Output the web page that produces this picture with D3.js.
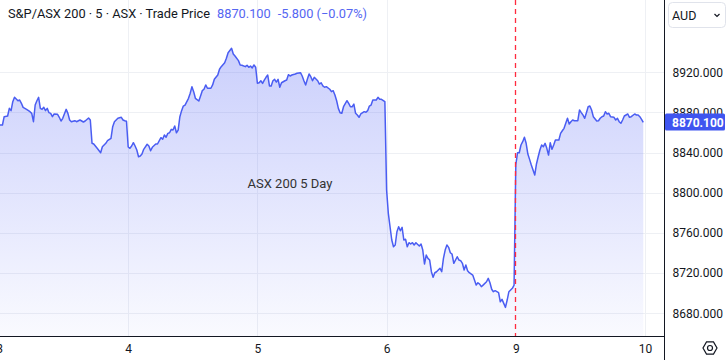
<!DOCTYPE html>
<html>
<head>
<meta charset="utf-8">
<script src="https://cdn.jsdelivr.net/npm/d3@7"></script>
<style>
  body { margin: 0; background: #fff; }
  svg { display: block; font-family: Roboto, "Liberation Sans", sans-serif; }
</style>
</head>
<body>
<div id="chart"></div>
<script>
const dayLabels = ["3", "4", "5", "6", "9", "10"];
const barsPerDay = 75;
const yTicks = [8680, 8720, 8760, 8800, 8840, 8880, 8920];
const lastPrice = 8870.1;
const change = "-5.800 (\u22120.07%)";
const marketDay = 4; // index of the "9" session, marked with the red line

// [5-minute bar within the session, price]
const day3 = [[0,8867.5],[2,8867.5],[3,8875.8],[5,8876.5],[6,8884.1],[7,8881.8],[8,8890.7],[9,8895.1],[11,8891.7],[12,8892.4],[13,8889.1],[14,8885.1],[16,8883.1],[18,8880.8],[19,8879.1],[20,8870.8],[21,8887.4],[22,8891.7],[23,8895.1],[24,8884.1],[25,8883.1],[26,8885.1],[27,8881.8],[28,8884.1],[29,8879.8],[30,8879.1],[31,8875.8],[32,8878.5],[34,8878.2],[35,8875.2],[36,8871.5],[37,8874.2],[39,8883.1],[40,8879.1],[41,8872.5],[42,8870.8],[44,8871.8],[45,8870.8],[47,8872.5],[49,8870.5],[50,8871.5],[52,8874.5],[53,8872.5],[54,8849.3],[55,8848.6],[57,8844.3],[59,8839.9],[60,8845.9],[62,8849.3],[63,8851.9],[65,8854.3],[66,8865.8],[67,8870.8],[69,8874.2],[71,8875.2],[72,8872.5],[73,8871.8],[74,8871.2]];
const day4 = [[0,8845.6],[1,8844.3],[2,8846.6],[3,8849.9],[4,8846.6],[5,8842.6],[6,8835.9],[7,8836.6],[8,8838.6],[9,8843.3],[11,8848.3],[12,8846.6],[13,8841.9],[14,8845.3],[16,8848.6],[17,8848.6],[19,8854.9],[20,8853.3],[21,8857.6],[22,8855.3],[23,8859.2],[24,8859.8],[25,8863.2],[26,8862.5],[27,8866.5],[28,8859.8],[29,8862.5],[30,8875.8],[31,8881.8],[32,8886.4],[33,8887.4],[35,8894.1],[36,8899.1],[37,8905.7],[38,8900.7],[39,8894.1],[41,8891.4],[42,8896.4],[43,8901.7],[44,8903.1],[45,8907.4],[46,8904.1],[48,8904.1],[49,8907.4],[50,8913.0],[52,8917.3],[53,8923.0],[54,8925.6],[56,8929.6],[57,8933.9],[58,8939.5],[60,8943.9],[61,8938.2],[62,8936.2],[64,8931.6],[65,8927.3],[66,8927.0],[68,8925.6],[69,8927.0],[70,8925.0],[71,8926.3],[72,8924.3],[73,8927.3],[74,8925.0]];
const day5 = [[0,8909.1],[1,8909.6],[2,8911.6],[3,8909.0],[4,8912.3],[5,8915.0],[6,8917.3],[7,8906.4],[8,8906.4],[9,8911.6],[10,8913.0],[11,8910.3],[12,8913.0],[13,8905.1],[14,8909.6],[15,8910.6],[16,8911.6],[17,8912.3],[18,8917.6],[19,8916.3],[20,8917.3],[22,8918.3],[23,8919.0],[25,8919.6],[26,8916.3],[27,8911.6],[28,8907.4],[29,8913.0],[30,8918.3],[31,8915.6],[32,8911.6],[33,8915.0],[35,8911.6],[36,8908.3],[37,8909.6],[38,8906.4],[39,8905.1],[40,8905.7],[42,8903.1],[43,8900.7],[44,8901.7],[45,8897.4],[46,8891.7],[47,8884.1],[48,8879.8],[49,8879.2],[50,8885.7],[52,8891.7],[53,8889.1],[54,8885.7],[55,8885.7],[56,8888.4],[57,8879.2],[58,8877.5],[59,8875.2],[60,8878.5],[62,8880.8],[63,8880.2],[64,8881.8],[65,8886.4],[66,8887.4],[67,8892.4],[69,8892.4],[70,8895.1],[71,8893.1],[72,8893.1],[74,8890.7]];
const day6 = [[0,8802.8],[1,8779.6],[2,8766.2],[3,8753.0],[4,8746.3],[5,8748.0],[6,8761.2],[7,8766.2],[8,8762.2],[9,8765.6],[10,8753.0],[11,8753.7],[12,8746.3],[13,8750.3],[14,8749.0],[15,8750.3],[16,8748.0],[17,8750.3],[19,8747.0],[20,8749.0],[21,8743.0],[22,8729.1],[23,8738.0],[24,8734.7],[25,8733.0],[26,8721.4],[27,8715.8],[28,8720.4],[29,8721.4],[31,8724.8],[32,8721.4],[33,8734.7],[34,8743.0],[35,8748.0],[36,8745.7],[37,8740.3],[38,8739.0],[39,8729.8],[41,8736.3],[42,8733.0],[43,8732.4],[44,8729.8],[45,8723.1],[46,8728.1],[47,8722.4],[48,8720.4],[50,8718.1],[51,8713.1],[52,8708.1],[53,8710.4],[54,8709.1],[55,8706.5],[56,8708.1],[58,8711.4],[59,8714.8],[60,8710.4],[61,8703.9],[62,8701.5],[63,8702.5],[65,8700.5],[66,8691.5],[67,8693.9],[68,8689.9],[69,8685.9],[70,8693.2],[71,8701.5],[72,8703.2],[73,8704.9],[74,8708.1]];
const day9 = [[0,8827.7],[1,8839.9],[2,8839.9],[3,8847.6],[4,8850.9],[5,8855.3],[6,8849.3],[7,8838.6],[8,8833.3],[9,8827.7],[10,8822.7],[11,8817.7],[12,8828.7],[13,8835.9],[14,8842.6],[15,8847.6],[16,8845.9],[17,8849.3],[18,8844.3],[19,8837.6],[20,8849.9],[21,8843.3],[22,8847.6],[23,8852.6],[25,8852.6],[26,8859.2],[27,8861.8],[28,8864.2],[29,8869.2],[30,8874.2],[31,8868.5],[32,8870.8],[33,8872.5],[34,8871.8],[36,8871.8],[37,8882.5],[38,8879.8],[39,8877.5],[40,8874.2],[41,8879.8],[42,8885.7],[43,8886.4],[44,8882.5],[45,8875.8],[47,8871.5],[48,8871.8],[49,8874.2],[50,8875.8],[51,8876.5],[52,8880.8],[53,8878.5],[54,8879.2],[55,8875.8],[57,8875.2],[58,8872.5],[59,8874.2],[60,8870.8],[61,8869.2],[62,8872.5],[63,8876.5],[64,8877.5],[65,8878.5],[66,8875.2],[67,8875.8],[69,8878.5],[70,8877.5],[71,8877.5],[72,8875.8],[73,8873.2],[74,8870.1]];

const sessions = [day3, day4, day5, day6, day9];

const width = 728;
const height = 360;
const plotRight = 664.5;
const plotBottom = 336.5;

const data = sessions.flatMap((s, i) => s.map(([b, v]) => ({ bar: i * barsPerDay + b, value: v })));

const x = d3.scaleLinear()
    .domain([0, barsPerDay * (dayLabels.length - 1)])
    .range([-1, 645]);

const y = d3.scaleLinear()
    .domain([8680, 8920])
    .range([313.3, 72.3]);

const svg = d3.select("#chart").append("svg")
    .attr("width", width)
    .attr("height", height);

const defs = svg.append("defs");
const grad = defs.append("linearGradient")
    .attr("id", "areaFill")
    .attr("gradientUnits", "userSpaceOnUse")
    .attr("x1", 0).attr("x2", 0)
    .attr("y1", y(d3.max(data, d => d.value)))
    .attr("y2", plotBottom);
grad.append("stop").attr("offset", "0%").attr("stop-color", "#5060f5").attr("stop-opacity", 0.3);
grad.append("stop").attr("offset", "100%").attr("stop-color", "#5060f5").attr("stop-opacity", 0.03);

defs.append("clipPath").attr("id", "plotClip")
    .append("rect").attr("x", 0).attr("y", 0).attr("width", plotRight).attr("height", plotBottom);

const markBar = marketDay * barsPerDay;

// grid
const grid = svg.append("g").attr("class", "grid");
grid.selectAll("line.h")
    .data(yTicks)
    .join("line")
    .attr("class", "h")
    .attr("x1", 0).attr("x2", plotRight)
    .attr("y1", d => Math.round(y(d)) + 0.5)
    .attr("y2", d => Math.round(y(d)) + 0.5)
    .attr("stroke", "#eef0f4");
grid.selectAll("line.v")
    .data(dayLabels.map((d, i) => i * barsPerDay).filter(b => x(b) > 0 && b !== markBar))
    .join("line")
    .attr("class", "v")
    .attr("x1", d => Math.round(x(d)) + 0.5)
    .attr("x2", d => Math.round(x(d)) + 0.5)
    .attr("y1", 0).attr("y2", plotBottom)
    .attr("stroke", "#eef0f4");

const plot = svg.append("g").attr("clip-path", "url(#plotClip)");

plot.append("path")
    .datum(data)
    .attr("fill", "url(#areaFill)")
    .attr("d", d3.area().x(d => x(d.bar)).y0(plotBottom).y1(d => y(d.value)));

plot.append("path")
    .datum(data)
    .attr("fill", "none")
    .attr("stroke", "#4a5df2")
    .attr("stroke-width", 1.5)
    .attr("stroke-linejoin", "round")
    .attr("d", d3.line().x(d => x(d.bar)).y(d => y(d.value)));

// session marker
const markX = Math.round(x(markBar)) - 0.5;
svg.append("line")
    .attr("x1", markX).attr("x2", markX)
    .attr("y1", 0).attr("y2", plotBottom)
    .style("stroke", "#ff2b3f")
    .style("stroke-width", "1.3px")
    .style("stroke-dasharray", "5,4");

// watermark-ish label
svg.append("text")
    .attr("x", 290)
    .attr("y", 188)
    .attr("text-anchor", "middle")
    .style("font-size", "13px")
    .style("fill", "#333")
    .text("ASX 200 5 Day");

// header
const header = svg.append("text")
    .attr("x", 8)
    .attr("y", 18)
    .style("font-size", "12.8px")
    .style("fill", "#131722");
header.append("tspan").text("S&P/ASX 200 \u00b7 5 \u00b7 ASX \u00b7 Trade Price");
header.append("tspan").attr("dx", 7).style("fill", "#5566f2").text(d3.format(".3f")(lastPrice));
header.append("tspan").attr("dx", 7).style("fill", "#5566f2").text(change);

// axes frame
svg.append("line")
    .attr("x1", plotRight).attr("x2", plotRight)
    .attr("y1", 0).attr("y2", height)
    .attr("stroke", "#131722");
svg.append("line")
    .attr("x1", 0).attr("x2", plotRight)
    .attr("y1", plotBottom).attr("y2", plotBottom)
    .attr("stroke", "#131722");

// right price axis
svg.append("g")
    .attr("transform", `translate(${plotRight}, 0)`)
    .call(d3.axisRight(y).tickValues(yTicks).tickSize(0).tickPadding(8).tickFormat(d3.format(".3f")))
    .call(g => g.select(".domain").remove())
    .call(g => g.selectAll(".tick text")
        .style("font-family", "Roboto, sans-serif")
        .style("font-size", "12px")
        .style("fill", "#131722"));

// bottom time axis
svg.append("g")
    .attr("transform", `translate(0, ${plotBottom})`)
    .call(d3.axisBottom(x)
        .tickValues(dayLabels.map((d, i) => i * barsPerDay))
        .tickSize(0).tickPadding(8)
        .tickFormat((d, i) => dayLabels[i]))
    .call(g => g.select(".domain").remove())
    .call(g => g.selectAll(".tick text")
        .style("font-family", "Roboto, sans-serif")
        .style("font-size", "12px")
        .style("fill", "#131722"));

// last price label
const py = y(lastPrice);
svg.append("rect")
    .attr("x", plotRight + 0.5)
    .attr("y", Math.round(py) - 8.5)
    .attr("width", 60)
    .attr("height", 17)
    .attr("rx", 1.5)
    .attr("fill", "#3f55f0");
svg.append("text")
    .attr("x", 672)
    .attr("y", py + 4.5)
    .style("font-size", "12px")
    .style("font-weight", "bold")
    .style("fill", "#fff")
    .text(d3.format(".3f")(lastPrice));

// currency selector
svg.append("rect")
    .attr("x", 668.5).attr("y", 2.5)
    .attr("width", 57).attr("height", 25)
    .attr("rx", 4)
    .attr("fill", "#fff")
    .attr("stroke", "#e0e3eb");
svg.append("text")
    .attr("x", 672).attr("y", 19.5)
    .style("font-size", "12.5px")
    .style("fill", "#131722")
    .text("AUD");
svg.append("path")
    .attr("d", "M714.5,14 l2.5,2.5 l2.5,-2.5")
    .attr("fill", "none")
    .attr("stroke", "#131722")
    .attr("stroke-width", 1.2);

// settings icon
const hex = d3.range(6).map(i => {
    const a = Math.PI / 3 * i;
    return [710 + 7 * Math.cos(a), 348 + 7 * Math.sin(a)];
});
svg.append("path")
    .attr("d", d3.line()(hex) + "Z")
    .attr("fill", "none")
    .attr("stroke", "#131722")
    .attr("stroke-width", 1.2);
svg.append("circle")
    .attr("cx", 710).attr("cy", 348).attr("r", 2.5)
    .attr("fill", "none")
    .attr("stroke", "#131722")
    .attr("stroke-width", 1.2);
</script>
</body>
</html>
